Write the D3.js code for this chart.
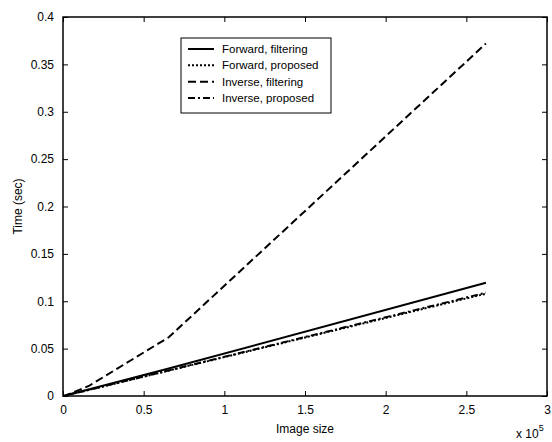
<!DOCTYPE html>
<html>
<head>
<meta charset="utf-8">
<script src="https://cdn.jsdelivr.net/npm/d3@7"></script>
<style>
  body { margin: 0; background: #fff; }
  svg { display: block; font-family: "Liberation Sans", Arial, sans-serif; }
</style>
</head>
<body>
<div id="chart"></div>
<script>
const width = 552;
const height = 442;
const margin = { top: 17, right: 5, bottom: 46, left: 63 };

// image sizes (pixels)
const sizes = [1024, 4096, 16384, 65536, 262144];
const fwdFilt = [0.0004, 0.0018, 0.0072, 0.029, 0.1195];
const fwdProp = [0.0003, 0.0016, 0.0066, 0.0268, 0.108];
const invFilt = [0.0003, 0.0022, 0.011, 0.062, 0.372];
const invProp = [0.0003, 0.0016, 0.0066, 0.027, 0.109];

const seriesNames = ['Forward, filtering', 'Forward, proposed', 'Inverse, filtering', 'Inverse, proposed'];
const xTicks = [0, 0.5, 1, 1.5, 2, 2.5, 3];
const yTicks = [0, 0.05, 0.1, 0.15, 0.2, 0.25, 0.3, 0.35, 0.4];

const dashes = [null, '2,2', '8,4', '7,3,2,3'];
const series = [fwdFilt, fwdProp, invFilt, invProp].map((vals, i) => ({
  name: seriesNames[i],
  dash: dashes[i],
  points: sizes.map((s, j) => ({ x: s / 1e5, y: vals[j] }))
}));

const x = d3.scaleLinear().domain([0, 3]).range([margin.left, width - margin.right]);
const y = d3.scaleLinear().domain([0, 0.4]).range([height - margin.bottom, margin.top]);

const svg = d3.select('#chart').append('svg')
  .attr('width', width)
  .attr('height', height);

// axes box with inward ticks on all sides
const tl = 5;
svg.append('g')
  .attr('transform', `translate(0,${y(0)})`)
  .call(d3.axisBottom(x).tickValues(xTicks).tickSize(-tl).tickPadding(9).tickFormat(d3.format('')))
  .call(g => g.select('.domain').remove())
  .call(g => g.selectAll('text').attr('font-size', 12).attr('fill', '#000'));
svg.append('g')
  .attr('transform', `translate(0,${y(0.4)})`)
  .call(d3.axisTop(x).tickValues(xTicks).tickSize(-tl).tickFormat(''))
  .call(g => g.select('.domain').remove());
svg.append('g')
  .attr('transform', `translate(${x(0)},0)`)
  .call(d3.axisLeft(y).tickValues(yTicks).tickSize(-tl).tickPadding(9).tickFormat(d3.format('')))
  .call(g => g.select('.domain').remove())
  .call(g => g.selectAll('text').attr('font-size', 12).attr('fill', '#000'));
svg.append('g')
  .attr('transform', `translate(${x(3)},0)`)
  .call(d3.axisRight(y).tickValues(yTicks).tickSize(-tl).tickFormat(''))
  .call(g => g.select('.domain').remove());

svg.append('rect')
  .attr('x', x(0)).attr('y', y(0.4))
  .attr('width', x(3) - x(0)).attr('height', y(0) - y(0.4))
  .attr('fill', 'none').attr('stroke', '#000').attr('stroke-width', 1.5);

const line = d3.line().x(d => x(d.x)).y(d => y(d.y));
const allPts = s => [{ x: 0, y: 0 }, ...s.points];

svg.append('g').selectAll('path')
  .data(series)
  .join('path')
  .attr('d', d => line(allPts(d)))
  .attr('fill', 'none')
  .attr('stroke', '#000')
  .attr('stroke-width', 2)
  .attr('stroke-dasharray', d => d.dash);

// axis labels
svg.append('text')
  .attr('x', x(1.5)).attr('y', 433)
  .attr('text-anchor', 'middle').attr('font-size', 12)
  .text('Image size');
svg.append('text')
  .attr('transform', `translate(22,${y(0.2)}) rotate(-90)`)
  .attr('text-anchor', 'middle').attr('font-size', 12)
  .text('Time (sec)');
const mult = svg.append('text').attr('x', 516).attr('y', 438).attr('font-size', 12);
mult.append('tspan').text('x 10');
mult.append('tspan').attr('dy', -7).attr('font-size', 9).text('5');

// legend
const lg = svg.append('g').attr('transform', 'translate(181,38)');
lg.append('rect')
  .attr('width', 150).attr('height', 75)
  .attr('fill', '#fff').attr('stroke', '#000').attr('stroke-width', 1);
const rowY = d3.scalePoint().domain(seriesNames).range([11, 60]);
const rows = lg.selectAll('g.row').data(series).join('g')
  .attr('class', 'row')
  .attr('transform', d => `translate(0,${rowY(d.name)})`);
rows.append('line')
  .attr('x1', 7).attr('x2', 33)
  .attr('stroke', '#000').attr('stroke-width', 2)
  .attr('stroke-dasharray', d => d.dash);
rows.append('text')
  .attr('x', 41).attr('dy', '0.35em').attr('font-size', 11.5)
  .text(d => d.name);
</script>
</body>
</html>
